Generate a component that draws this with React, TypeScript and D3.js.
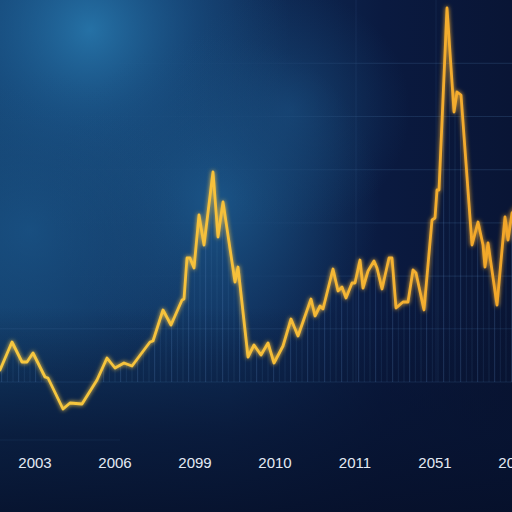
import React from "react";
import * as d3 from "d3";

// x positions in months from the first label; values in index units
const months = [
  -5.25, -3.45, -1.95, -1.2, -0.3, 1.5, 1.95, 4.2, 5.25, 7.05, 9.3, 10.8, 12, 13.35, 14.55,
  17.25, 17.7, 19.2, 20.4, 22.05, 22.35, 22.8, 23.25, 23.85, 24.6, 25.35, 26.7, 27.45, 28.2,
  30, 30.45, 31.95, 32.85, 33.9, 34.95, 35.85, 37.2, 38.4, 39.45, 41.4, 42, 42.75, 43.2,
  44.7, 45.45, 46.05, 46.65, 47.55, 48, 48.75, 49.2, 49.95, 50.85, 51.3, 52.05, 53.1, 53.55,
  54.15, 55.2, 55.95, 56.7, 57.15, 58.35, 59.55, 60, 60.3, 60.6, 61.8, 62.85, 63.3, 63.9,
  65.55, 66.45, 67.2, 67.5, 67.95, 69.3, 70.5, 70.95, 71.55, 72.45,
];
const values = [
  10.5, 17.5, 12.5, 12.5, 14.75, 8.75, 8.5, 0.75, 2.25, 2, 8, 13.5, 11, 12.25, 11.5,
  17.5, 17.75, 25.5, 21.75, 28, 28.25, 38.5, 38.5, 36, 49.25, 41.75, 60, 43.75, 52.5,
  32.5, 36.25, 13.75, 16.75, 14.25, 17.25, 12.25, 16.5, 23.25, 19, 28.25, 24, 26.5, 25.75,
  35.75, 30.25, 31.25, 28.5, 32.25, 32.25, 38, 31, 35.25, 37.75, 36, 30.75, 38.5, 38.5,
  26, 27.5, 27.5, 35.5, 34.75, 25.5, 48, 48.5, 55.5, 55.5, 101, 75, 80, 79.25,
  41.75, 47.5, 41.75, 36.25, 42.25, 26.75, 48.75, 43, 49.75, 51.75,
];
const tickMonths = [0, 12, 24, 36, 48, 60, 72];
const tickLabels = ["2003", "2006", "2099", "2010", "2011", "2051", "2014"];
const gridValues = [7.5, 20.8, 34.1, 47.4, 60.7, 74, 87.3];

const W = 512;
const H = 512;

export default function App() {
  const x = d3.scaleLinear().domain([-5.25, 71.55]).range([0, W]);
  const y = d3.scaleLinear().domain([0, 100]).range([412, 12]);
  const pts = months.map((m, i) => ({ m, v: values[i] }));
  const line = d3
    .line<{ m: number; v: number }>()
    .x((d) => x(d.m))
    .y((d) => y(d.v));
  const area = d3
    .area<{ m: number; v: number }>()
    .x((d) => x(d.m))
    .y0(y(7.5))
    .y1((d) => y(d.v));
  const stripes = d3.range(-5, 73, 0.85);

  return (
    <svg
      width={W}
      height={H}
      style={{ position: "absolute", left: 0, top: 0, display: "block" }}
    >
      <defs>
        <linearGradient id="base" x1="0" y1="0" x2="1" y2="0">
          <stop offset="0" stopColor="#133f6d" />
          <stop offset="0.45" stopColor="#10315e" />
          <stop offset="0.75" stopColor="#0a1a40" />
          <stop offset="1" stopColor="#091535" />
        </linearGradient>
        <radialGradient id="g1" cx="90" cy="30" r="200" gradientUnits="userSpaceOnUse">
          <stop offset="0" stopColor="#2a7fb5" stopOpacity="0.8" />
          <stop offset="0.5" stopColor="#1f639a" stopOpacity="0.42" />
          <stop offset="1" stopColor="#1a5080" stopOpacity="0" />
        </radialGradient>
        <radialGradient id="g2" cx="215" cy="200" r="165" gradientUnits="userSpaceOnUse">
          <stop offset="0" stopColor="#1f6398" stopOpacity="0.7" />
          <stop offset="1" stopColor="#1a5080" stopOpacity="0" />
        </radialGradient>
        <radialGradient id="g3" cx="30" cy="230" r="160" gradientUnits="userSpaceOnUse">
          <stop offset="0" stopColor="#1c5a8e" stopOpacity="0.6" />
          <stop offset="1" stopColor="#1a5080" stopOpacity="0" />
        </radialGradient>
        <radialGradient id="g4" cx="290" cy="110" r="120" gradientUnits="userSpaceOnUse">
          <stop offset="0" stopColor="#1c5588" stopOpacity="0.5" />
          <stop offset="1" stopColor="#1a5080" stopOpacity="0" />
        </radialGradient>
        <linearGradient id="bottom" x1="0" y1="0" x2="0" y2="1">
          <stop offset="0" stopColor="#06102a" stopOpacity="0" />
          <stop offset="0.6" stopColor="#06102a" stopOpacity="0" />
          <stop offset="0.85" stopColor="#071330" stopOpacity="0.75" />
          <stop offset="1" stopColor="#06102a" stopOpacity="0.9" />
        </linearGradient>
        <linearGradient id="gridFade" x1="0" y1="0" x2={W} y2="0" gradientUnits="userSpaceOnUse">
          <stop offset="0" stopColor="#4a78aa" stopOpacity="0" />
          <stop offset="0.5" stopColor="#4a78aa" stopOpacity="0.04" />
          <stop offset="0.75" stopColor="#4a78aa" stopOpacity="0.22" />
          <stop offset="1" stopColor="#4a78aa" stopOpacity="0.25" />
        </linearGradient>
        <linearGradient id="lineGrad" x1="0" y1="0" x2={W} y2="0" gradientUnits="userSpaceOnUse">
          <stop offset="0" stopColor="#f6c840" />
          <stop offset="0.5" stopColor="#f6bf3a" />
          <stop offset="1" stopColor="#f2a62a" />
        </linearGradient>
        <clipPath id="under">
          <path d={area(pts) || ""} />
        </clipPath>
        <filter id="glow" x="-10%" y="-10%" width="120%" height="120%">
          <feGaussianBlur stdDeviation="2" result="b" />
          <feMerge>
            <feMergeNode in="b" />
            <feMergeNode in="SourceGraphic" />
          </feMerge>
        </filter>
      </defs>
      <rect width={W} height={H} fill="url(#base)" />
      <rect width={W} height={H} fill="url(#g1)" />
      <rect width={W} height={H} fill="url(#g2)" />
      <rect width={W} height={H} fill="url(#g3)" />
      <rect width={W} height={H} fill="url(#g4)" />
      <rect width={W} height={H} fill="url(#bottom)" />

      {gridValues.map((g, i) =>
        i < 2 ? (
          <line
            key={g}
            x1={0}
            x2={W}
            y1={y(g)}
            y2={y(g)}
            stroke="#4a78aa"
            strokeOpacity={0.2}
            strokeWidth={1}
          />
        ) : (
          <rect key={g} x={0} y={y(g)} width={W} height={1} fill="url(#gridFade)" />
        )
      )}
      <line x1={0} x2={120} y1={440} y2={440} stroke="#4a78aa" strokeOpacity={0.12} />
      {[48, 60].map((m) => (
        <line key={m} x1={x(m) + 1} x2={x(m) + 1} y1={0} y2={y(7.5)} stroke="#4a78aa" strokeOpacity={0.14} />
      ))}

      <g clipPath="url(#under)">
        {stripes.map((s, i) => (
          <line
            key={i}
            x1={x(s)}
            x2={x(s)}
            y1={0}
            y2={y(7.5)}
            stroke="#5d8cc2"
            strokeOpacity={i % 3 === 0 ? 0.26 : 0.14}
            strokeWidth={1}
          />
        ))}
      </g>

      <path
        d={line(pts) || ""}
        fill="none"
        stroke="url(#lineGrad)"
        strokeWidth={2.8}
        strokeLinejoin="round"
        strokeLinecap="round"
        filter="url(#glow)"
      />

      {tickMonths.map((m, i) => (
        <text
          key={m}
          x={x(m)}
          y={468}
          textAnchor="middle"
          fill="#e4eaf4"
          fontSize={15}
          fontFamily="'Liberation Sans', Arial, sans-serif"
        >
          {tickLabels[i]}
        </text>
      ))}
    </svg>
  );
}
